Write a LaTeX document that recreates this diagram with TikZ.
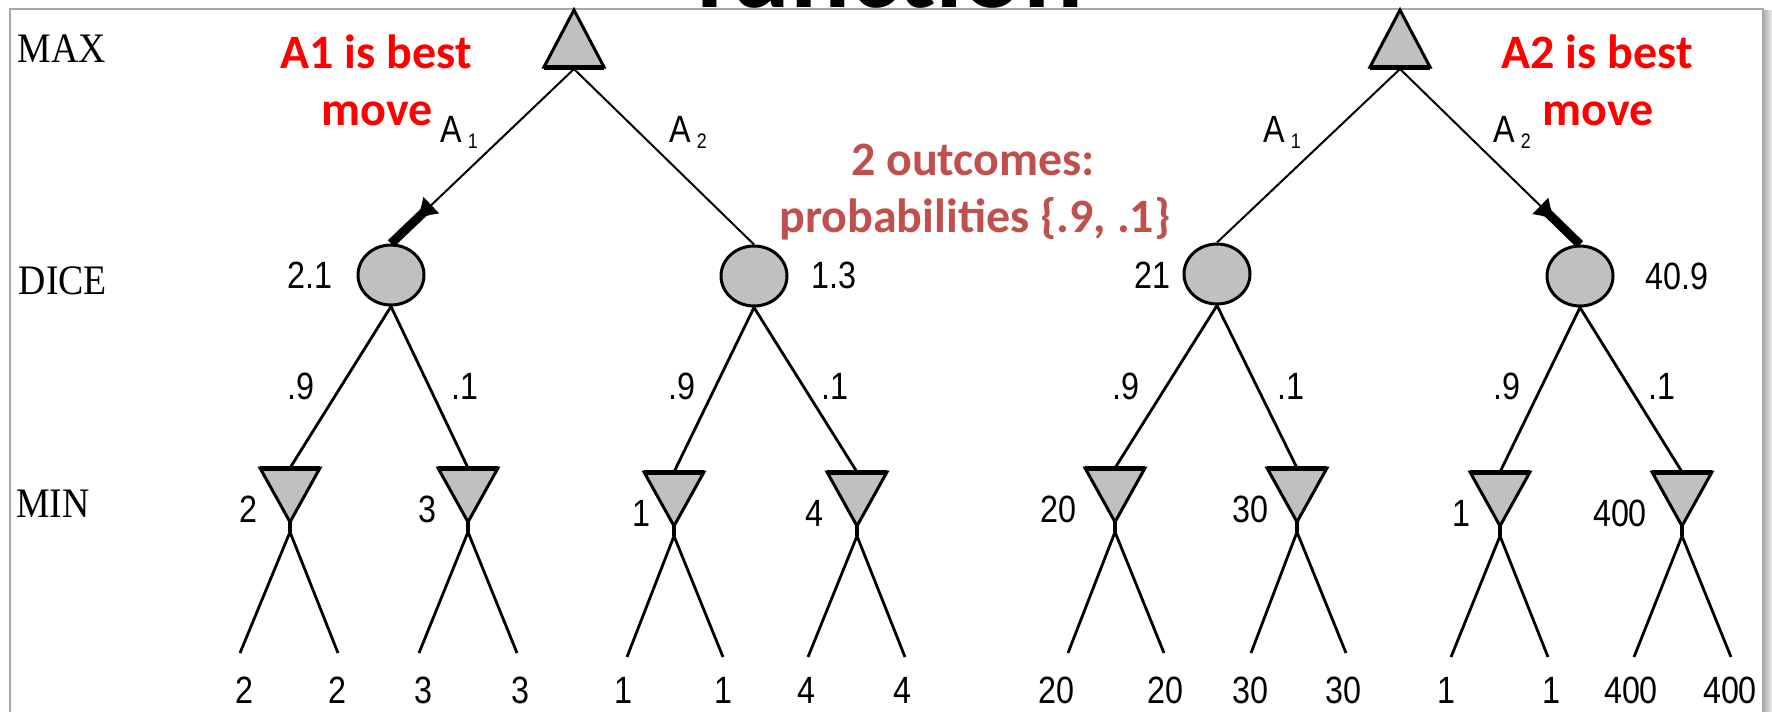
\documentclass[tikz,border=0pt]{standalone}
\usepackage{fontspec}
\usetikzlibrary{shapes.geometric,arrows.meta,calc}
\newfontfamily\lblfont[FakeStretch=0.85]{Liberation Sans}
\newfontfamily\lvlfont[FakeStretch=0.9]{Liberation Serif}
\newfontfamily\calfont{Carlito}
\definecolor{shapegray}{HTML}{C0C0C0}
\definecolor{notered}{HTML}{FF0000}
\definecolor{notebrown}{HTML}{C0504D}
\definecolor{framegray}{HTML}{A8A8A8}
\begin{document}
\begin{tikzpicture}[x=0.5pt,y=-0.5pt,
  num/.style={font=\lblfont\fontsize{19}{19}\selectfont, inner sep=0pt},
  lvl/.style={font=\lvlfont\fontsize{21}{21}\selectfont, inner sep=0pt},
  note/.style={font=\calfont\bfseries\fontsize{24}{28.5}\selectfont, inner sep=0pt, anchor=base},
  dice/.style={ellipse, draw, line width=1.5pt, fill=shapegray, minimum width=33pt, minimum height=30pt, inner sep=0pt},
  tri/.style={draw, line width=1.5pt, fill=shapegray, line join=miter},
  basebar/.style={line width=2.5pt},
  conn/.style={line width=1pt},
  conn2/.style={line width=1.4pt},
  best/.style={line width=4.5pt, {Latex[reversed,length=11pt,width=12pt]}-},
]
\path[use as bounding box] (0,0) rectangle (1772,712);
\clip (0,0) rectangle (1772,712);

% title (cut off at the top)
\node[font=\calfont\bfseries\fontsize{56}{56}\selectfont, anchor=base, inner sep=0pt] (title) at (889,8) {function};

% frame
\shade[left color=gray!60, right color=gray!15] (1764,10) rectangle (1772,712);
\draw[framegray, line width=1pt] (10,712) -- (10,9) -- (1763,9) -- (1763,712);

% level labels
\node[lvl] (lmax) at (62,49) {MAX};
\node[lvl] (ldice) at (63,281) {DICE};
\node[lvl] (lmin) at (53,504) {MIN};

% MAX roots
\filldraw[tri] (574,10) -- (544,67) -- (604,67) -- cycle;
\draw[basebar] (544,67) -- (604,67);
\coordinate (rootL) at (574,69);
\filldraw[tri] (1400,10) -- (1370,67) -- (1430,67) -- cycle;
\draw[basebar] (1370,67) -- (1430,67);
\coordinate (rootR) at (1400,69);

% dice nodes
\node[dice] (dA) at (391,275) {};
\node[dice] (dB) at (754,276) {};
\node[dice] (dC) at (1217,274) {};
\node[dice] (dD) at (1580,276) {};

% root connectors
\draw[conn] (rootL) -- (dA.north);
\draw[conn] (rootL) -- (dB.north);
\draw[conn] (rootR) -- (dC.north);
\draw[conn] (rootR) -- (dD.north);
\draw[best] ($(rootL)!0.78!(dA.north)$) -- (dA.north);
\draw[best] ($(rootR)!0.78!(dD.north)$) -- (dD.north);

% move labels
\node[num, anchor=base west] (aL1) at (440,142) {A\kern3pt\raisebox{-3pt}{\fontsize{10.5}{10.5}\selectfont 1}};
\node[num, anchor=base west] (aL2) at (669,142) {A\kern3pt\raisebox{-3pt}{\fontsize{10.5}{10.5}\selectfont 2}};
\node[num, anchor=base west] (aR1) at (1263,142) {A\kern3pt\raisebox{-3pt}{\fontsize{10.5}{10.5}\selectfont 1}};
\node[num, anchor=base west] (aR2) at (1493,142) {A\kern3pt\raisebox{-3pt}{\fontsize{10.5}{10.5}\selectfont 2}};

% dice values
\node[num] (vA) at (310,275) {2.1};
\node[num] (vB) at (834,275) {1.3};
\node[num] (vC) at (1152,275) {21};
\node[num] (vD) at (1677,276) {40.9};

% MIN nodes and leaves
\foreach \nm/\cx/\ty/\val/\vx/\la/\lb/\lax/\lbx in {
 mA/290/468/2/248/240/338/244/337,
 mB/468/468/3/427/419/517/423/520,
 mC/674/472/1/641/627/723/623/723,
 mD/857/472/4/814/808/905/806/902,
 mE/1115/468/20/1058/1068/1164/1056/1165,
 mF/1297/468/30/1250/1251/1346/1250/1343,
 mG/1500/472/1/1461/1451/1548/1446/1551,
 mH/1682/472/400/1620/1634/1731/1631/1730}
{
  \filldraw[tri] (\cx-30,\ty) -- (\cx+30,\ty) -- (\cx,\ty+54) -- cycle;
  \draw[basebar] (\cx-30,\ty) -- (\cx+30,\ty);
  \coordinate (\nm t) at (\cx,\ty);
  \coordinate (\nm x) at (\cx,\ty+64);
  \coordinate (\nm l) at (\la,\ty+185);
  \coordinate (\nm r) at (\lb,\ty+185);
  \draw[line width=2pt] (\cx,\ty+54) -- (\nm x);
  \draw[conn2] (\nm x) -- (\nm l);
  \draw[conn2] (\nm x) -- (\nm r);
  \node[num] (\nm v) at (\vx,\ty+41) {\val};
  \node[num] (\nm vl) at (\lax,690) {\val};
  \node[num] (\nm vr) at (\lbx,690) {\val};
}

% dice to MIN connectors
\draw[conn2] (dA.south) -- (mAt);
\draw[conn2] (dA.south) -- (mBt);
\draw[conn2] (dB.south) -- (mCt);
\draw[conn2] (dB.south) -- (mDt);
\draw[conn2] (dC.south) -- (mEt);
\draw[conn2] (dC.south) -- (mFt);
\draw[conn2] (dD.south) -- (mGt);
\draw[conn2] (dD.south) -- (mHt);

% probabilities
\node[num] (pA9) at (301,386) {.9};
\node[num] (pA1) at (465,386) {.1};
\node[num] (pB9) at (682,386) {.9};
\node[num] (pB1) at (835,386) {.1};
\node[num] (pC9) at (1126,386) {.9};
\node[num] (pC1) at (1291,386) {.1};
\node[num] (pD9) at (1507,386) {.9};
\node[num] (pD1) at (1662,386) {.1};

% notes
\node[note, text=notered] (n1a) at (376,68) {A1 is best};
\node[note, text=notered] (n1b) at (377,125) {move};
\node[note, text=notered] (n2a) at (1597,68) {A2 is best};
\node[note, text=notered] (n2b) at (1598,125) {move};
\node[note, text=notebrown] (n3a) at (973,175) {2 outcomes:};
\node[note, text=notebrown] (n3b) at (975,232) {probabilities \{.9, .1\}};
\end{tikzpicture}
\end{document}
